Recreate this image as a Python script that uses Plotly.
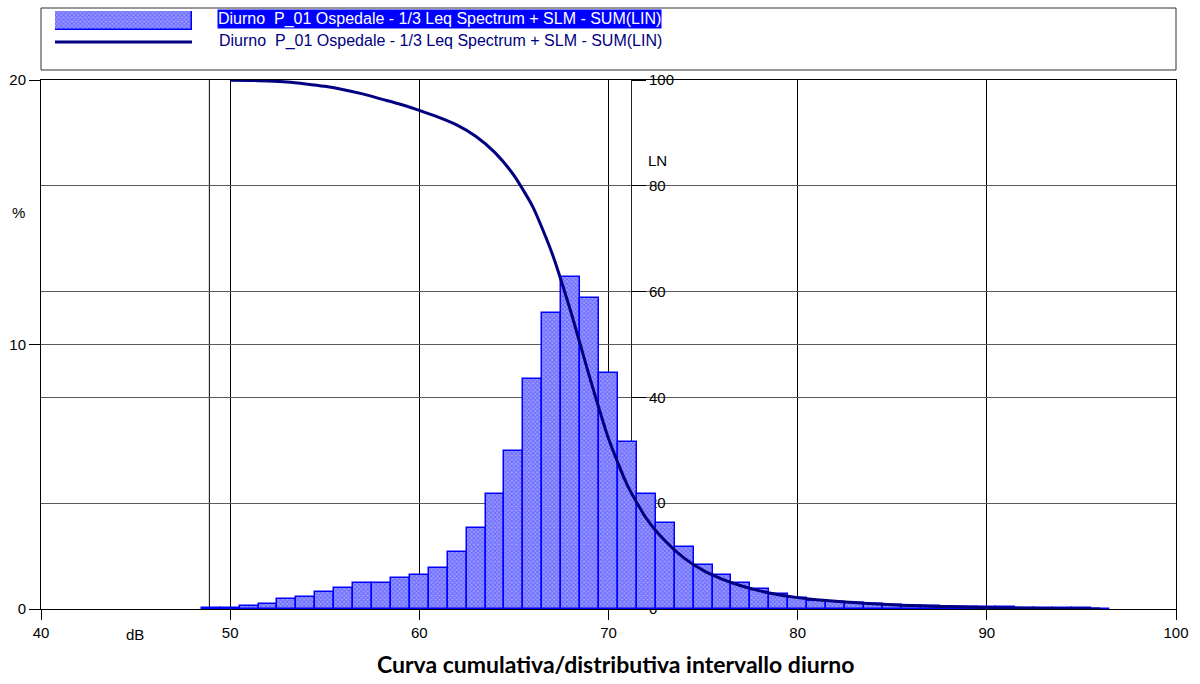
import plotly.graph_objects as go

W, H = 1200, 684

# Level distribution (1 dB classes, centre value in dB) and share of time in %
db_levels = list(range(49, 97))
dist_pct = [0.03, 0.05, 0.10, 0.19, 0.38, 0.46, 0.64, 0.80, 0.99, 0.98,
            1.16, 1.30, 1.54, 2.16, 3.08, 4.35, 5.99, 8.70, 11.21, 12.56,
            11.74, 8.92, 6.30, 4.33, 3.26, 2.33, 1.66, 1.27, 0.98, 0.74,
            0.55, 0.40, 0.30, 0.25, 0.21, 0.19, 0.15, 0.12, 0.10, 0.09,
            0.08, 0.07, 0.06, 0.05, 0.04, 0.03, 0.02, 0.01]

# Cumulative curve LN (% of time the level is exceeded)
ln_levels = list(range(50, 97))
ln_pct = [99.97, 99.92, 99.82, 99.63, 99.26, 98.80, 98.17, 97.37, 96.39, 95.42,
          94.27, 92.98, 91.46, 89.32, 86.27, 81.96, 76.02, 67.40, 56.29, 43.85,
          32.21, 23.38, 17.13, 12.84, 9.61, 7.30, 5.66, 4.40, 3.43, 2.70,
          2.15, 1.75, 1.46, 1.21, 1.00, 0.81, 0.66, 0.54, 0.45, 0.36,
          0.28, 0.21, 0.15, 0.10, 0.06, 0.03, 0.01]

x_ticks = [40, 50, 60, 70, 80, 90, 100]
pct_ticks = [0, 10, 20]
ln_ticks = [0, 20, 40, 60, 80, 100]
cursor_db = [48.9]

series_name = "Diurno\u00a0\u00a0P_01 Ospedale - 1/3 Leq Spectrum + SLM - SUM(LIN)"
title_text = "Curva cumulativa/distributiva intervallo diurno"

BAR_FILL = "#9c9cff"
BAR_DOTS = "#2f2fff"
BAR_EDGE = "#0000ff"
CURVE = "#000080"
TXT = "Liberation Sans, Arial, sans-serif"
TICK_SIZE = 15


def px(x):
    return x / W


def py(y):
    return 1 - y / H


bar_marker = dict(color=BAR_FILL, line=dict(color=BAR_EDGE, width=1.5),
                  pattern=dict(shape="x", fgcolor=BAR_DOTS, bgcolor=BAR_FILL,
                               size=3, solidity=0.5))

fig = go.Figure()

fig.add_trace(go.Bar(x=db_levels, y=dist_pct, width=1, marker=bar_marker,
                     name=series_name, xaxis="x", yaxis="y", showlegend=False))

fig.add_trace(go.Scatter(x=ln_levels, y=ln_pct, mode="lines",
                         line=dict(color=CURVE, width=3, shape="spline", smoothing=0.6),
                         name=series_name, xaxis="x", yaxis="y2", showlegend=False))

# legend swatch for the histogram series
fig.add_trace(go.Bar(x=[0.5], y=[1], width=1, marker=bar_marker,
                     xaxis="x3", yaxis="y3", showlegend=False, hoverinfo="skip"))

x0, x1 = px(41), px(1176)
y0, y1 = py(609), py(80)

fig.update_layout(
    width=W, height=H, autosize=False,
    margin=dict(l=0, r=0, t=0, b=0, pad=0, autoexpand=False),
    paper_bgcolor="white", plot_bgcolor="white",
    bargap=0,
    font=dict(family=TXT, size=TICK_SIZE, color="black"),
    xaxis=dict(domain=[x0, x1], range=[40, 100], tickvals=x_ticks,
               ticks="outside", ticklen=10, tickcolor="black",
               showgrid=True, gridcolor="black", gridwidth=1,
               showline=True, linecolor="black", linewidth=1, mirror=True,
               zeroline=False, anchor="y", tickfont=dict(size=TICK_SIZE)),
    yaxis=dict(domain=[y0, y1], range=[0, 20], tickvals=pct_ticks,
               ticks="outside", ticklen=11, tickcolor="black",
               showgrid=True, gridcolor="#5a5a5a", gridwidth=1,
               showline=True, linecolor="black", linewidth=1, mirror=True,
               zeroline=False, anchor="x", tickfont=dict(size=TICK_SIZE)),
    yaxis2=dict(overlaying="y", side="right", anchor="free", position=px(631),
                range=[0, 100], tickvals=ln_ticks,
                ticks="outside", ticklen=14, tickcolor="black",
                showgrid=True, gridcolor="#5a5a5a", gridwidth=1,
                showline=True, linecolor="#202020", linewidth=1,
                zeroline=False, layer="below traces", tickfont=dict(size=TICK_SIZE)),
    xaxis3=dict(domain=[px(55), px(192)], range=[0, 1], visible=False,
                anchor="y3", fixedrange=True),
    yaxis3=dict(domain=[py(30), py(11)], range=[0, 1], visible=False,
                anchor="x3", fixedrange=True),
)

shapes = [
    # legend frame
    dict(type="rect", xref="paper", yref="paper", x0=px(41), x1=px(1176),
         y0=py(70), y1=py(8), line=dict(color="#303030", width=1),
         fillcolor="rgba(0,0,0,0)"),
    # legend line swatch
    dict(type="line", xref="paper", yref="paper", x0=px(55), x1=px(192),
         y0=py(42), y1=py(42), line=dict(color=CURVE, width=3)),
]
for c in cursor_db:
    shapes.append(dict(type="line", xref="x", yref="paper", x0=c, x1=c,
                       y0=y0, y1=y1, line=dict(color="black", width=1),
                       layer="below"))
fig.update_layout(shapes=shapes)

annotations = [
    dict(x=px(217), y=py(19), xref="paper", yref="paper", xanchor="left",
         yanchor="middle", text=series_name, showarrow=False,
         font=dict(family=TXT, size=16, color="white"), bgcolor="#0000ff",
         borderpad=0),
    dict(x=px(217), y=py(41), xref="paper", yref="paper", xanchor="left",
         yanchor="middle", text=series_name, showarrow=False,
         font=dict(family=TXT, size=16, color=CURVE)),
    dict(x=px(135), y=py(634), xref="paper", yref="paper", xanchor="center",
         yanchor="middle", text="dB", showarrow=False,
         font=dict(family=TXT, size=TICK_SIZE, color="black")),
    dict(x=px(18), y=py(213), xref="paper", yref="paper", xanchor="center",
         yanchor="middle", text="%", showarrow=False,
         font=dict(family=TXT, size=TICK_SIZE, color="black")),
    dict(x=px(657), y=py(160), xref="paper", yref="paper", xanchor="center",
         yanchor="middle", text="LN", showarrow=False,
         font=dict(family=TXT, size=TICK_SIZE, color="black")),
    dict(x=px(616), y=py(664), xref="paper", yref="paper", xanchor="center",
         yanchor="middle", text="<b>" + title_text + "</b>", showarrow=False,
         font=dict(family="Lato, Carlito, sans-serif", size=23, color="black")),
]
fig.update_layout(annotations=annotations)

fig.write_html("out.html")
